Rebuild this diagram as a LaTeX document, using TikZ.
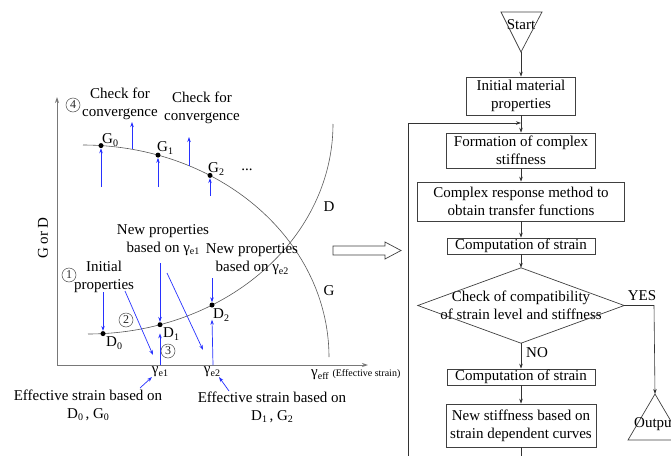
\documentclass[tikz,border=0pt]{standalone}
\usepackage{fontspec}
\setmainfont{Liberation Serif}
\usetikzlibrary{arrows.meta}
\definecolor{arrowblue}{RGB}{40,50,255}
\definecolor{axisgray}{RGB}{120,120,120}
\newcommand\mysub[1]{\raisebox{-0.35ex}{\fontsize{10}{10}\selectfont #1}}
\begin{document}
\begin{tikzpicture}[x=1pt,y=-1pt,
  every node/.style={font=\fontsize{15}{18}\selectfont, inner sep=0pt},
  lbl/.style={align=center},
  blu/.style={draw=arrowblue, line width=0.7pt, -{Stealth[length=5pt,width=3.5pt]}},
  flow/.style={draw=black!80, line width=0.6pt, -{Stealth[length=5pt,width=3.5pt]}},
  fbox/.style={draw=black!75, line width=0.7pt, align=center, inner sep=1pt},
  dot/.style={circle, fill=black, inner sep=0pt, minimum size=5pt},
  circ/.style={circle, draw=black!70, line width=0.5pt, minimum size=14pt, inner sep=0pt, font=\fontsize{12}{12}\selectfont, text=black!85},
  curve/.style={draw=black!65, line width=0.6pt},
]
\useasboundingbox (0,0) rectangle (671,455);
\clip (0,0) rectangle (671,455);

% ---------- axes ----------
\coordinate (origin) at (57,365);
\coordinate (ytop) at (57,97);
\coordinate (xend) at (368,365);
\draw[axisgray, line width=0.9pt, -{Stealth[length=6pt,width=4pt]}] (origin) -- (ytop);
\draw[axisgray, line width=0.9pt, -{Stealth[length=6pt,width=4pt]}] (origin) -- (xend);
\node[rotate=90] (yl) at (43,238) {G or D};

% ---------- curves ----------
\draw[curve] plot[domain=0:90, samples=70] ({83+246*cos(\x)},{357-212*sin(\x)});
\draw[curve] plot[domain=-90:0, samples=70] ({88+245*cos(\x)},{124-210*sin(\x)});
\node (Dl) at (329,207) {D};
\node (Gl) at (329,291) {G};

% ---------- points ----------
\node[dot] (g0) at (101,145.6) {};
\node[dot] (g1) at (158,155.1) {};
\node[dot] (g2) at (210,175.4) {};
\node[dot] (d0) at (103,333.6) {};
\node[dot] (d1) at (160,324.7) {};
\node[dot] (d2) at (212,305) {};
\node[anchor=west] (g0l) at (102,140) {G\mysub{0}};
\node[anchor=west] (g1l) at (157,148) {G\mysub{1}};
\node[anchor=west] (g2l) at (208,169) {G\mysub{2}};
\node (dots) at (247,170) {...};
\node[anchor=west] (d0l) at (106,343) {D\mysub{0}};
\node[anchor=west] (d1l) at (163,334) {D\mysub{1}};
\node[anchor=west] (d2l) at (213,315) {D\mysub{2}};

% ---------- labels ----------
\node[circ] (n4) at (73,105) {4};
\node[circ] (n1) at (69,275) {1};
\node[circ] (n2) at (126,320) {2};
\node[circ] (n3) at (168,351) {3};
\node[lbl] (chk1) at (120,104) {Check for\\convergence};
\node[lbl] (chk2) at (202,108) {Check for\\convergence};
\node[lbl] (initp) at (104,277) {Initial\\properties};
\node[lbl] (np1) at (163,240) {New properties\\based on γ\mysub{e1}};
\node[lbl] (np2) at (252,259.5) {New properties\\based on γ\mysub{e2}};
\node (ge1) at (160,372) {γ\mysub{e1}};
\node (ge2) at (212,372) {γ\mysub{e2}};
\node[anchor=west] (geff) at (311,375) {γ\mysub{eff} {\fontsize{10}{12}\selectfont(Effective strain)}};
\node[lbl] (es1) at (88,405.5) {Effective strain based on\\D\mysub{0}\,, G\mysub{0}};
\node[lbl] (es2) at (272,407.5) {Effective strain based on\\D\mysub{1}\,, G\mysub{2}};

% ---------- blue arrows ----------
\coordinate (a1) at (101,187);
\coordinate (a2) at (158,187);
\coordinate (a3) at (210,196);
\coordinate (c1s) at (132,149);
\coordinate (c1e) at (132,122);
\coordinate (c2s) at (189,165.7);
\coordinate (c2e) at (189,137);
\coordinate (b1) at (103,292);
\coordinate (b2s) at (125,291);
\coordinate (b2e) at (153,355);
\coordinate (b3) at (160,263);
\coordinate (b4s) at (167,273);
\coordinate (b4e) at (203,350);
\coordinate (b5) at (212,278);
\coordinate (u1) at (160,365);
\coordinate (u2) at (213,365);
\coordinate (e1s) at (140,388);
\coordinate (e1e) at (152,377);
\coordinate (e2s) at (229,391);
\coordinate (e2e) at (219,377);
\draw[blu] (a1) -- (g0);
\draw[blu] (a2) -- (g1);
\draw[blu] (a3) -- (g2);
\draw[blu] (c1s) -- (c1e);
\draw[blu] (c2s) -- (c2e);
\draw[blu] (b1) -- (d0);
\draw[blu] (b2s) -- (b2e);
\draw[blu] (b3) -- (d1);
\draw[blu] (b4s) -- (b4e);
\draw[blu] (b5) -- (d2);
\draw[blu] (u1) -- ([yshift=-6pt]d1.south);
\draw[blu] (u2) -- ([yshift=-12pt]d2.south);
\draw[blu] (e1s) -- (e1e);
\draw[blu] (e2s) -- (e2e);

% ---------- hollow arrow ----------
\draw[black!75, line width=0.7pt, fill=white] (333,246) -- (385,246) -- (385,242) -- (401,250.5) -- (385,259) -- (385,255) -- (333,255) -- cycle;

% ---------- flowchart ----------
\node (startt) at (521,25) {Start};
\coordinate (st1) at (501,12);
\coordinate (st2) at (542,12);
\coordinate (stapex) at (521,52);
\draw[black!75, line width=0.7pt] (st1) -- (st2) -- (stapex) -- cycle;

\node[fbox, minimum width=109pt, minimum height=38pt] (init) at (521,96) {Initial material\\properties};
\node[fbox, minimum width=149pt, minimum height=35pt] (form) at (521,150.5) {Formation of complex\\stiffness};
\node[fbox, minimum width=207pt, minimum height=39pt] (crm) at (521,201.5) {Complex response method to\\obtain transfer functions};
\node[fbox, minimum width=148pt, minimum height=16pt] (comp1) at (521,246) {Computation of strain};
\node[minimum width=206pt, minimum height=75pt, align=center] (chk) at (521,305.5) {Check of compatibility\\of strain level and stiffness};
\draw[black!75, line width=0.7pt] (chk.north) -- (chk.east) -- (chk.south) -- (chk.west) -- cycle;
\node[fbox, minimum width=148pt, minimum height=16pt] (comp2) at (521,377) {Computation of strain};
\node[fbox, minimum width=150pt, minimum height=43pt] (stiff) at (521,425.5) {New stiffness based on\\strain dependent curves};

\node (yes) at (642,296) {YES};
\node (no) at (537,353) {NO};

\coordinate (outapex) at (655,394);
\coordinate (outl) at (628,440);
\coordinate (outr) at (682,440);
\draw[black!75, line width=0.7pt] (outapex) -- (outl) -- (outr) -- cycle;
\node (outp) at (655,424) {Output};

\draw[flow] (stapex) -- (init.north);
\draw[flow] (init.south) -- (form.north);
\draw[flow] (form.south) -- (crm.north);
\draw[flow] (crm.south) -- (comp1.north);
\draw[flow] (comp1.south) -- (chk.north);
\draw[flow] (chk.south) -- (comp2.north);
\draw[flow] (comp2.south) -- (stiff.north);
\coordinate (bot) at (521,456);
\draw[black!80, line width=0.6pt] (stiff.south) -- (bot);
\coordinate (ycorner) at (654,305.5);
\draw[flow] (chk.east) -- (ycorner) -- (outapex);

\coordinate (fbbot) at (408,456);
\coordinate (fbtop) at (408,123);
\coordinate (fbjoin) at (521,123);
\draw[black!80, line width=0.6pt] (fbbot) -- (fbtop);
\draw[flow] (fbtop) -- (fbjoin);
\end{tikzpicture}
\end{document}
